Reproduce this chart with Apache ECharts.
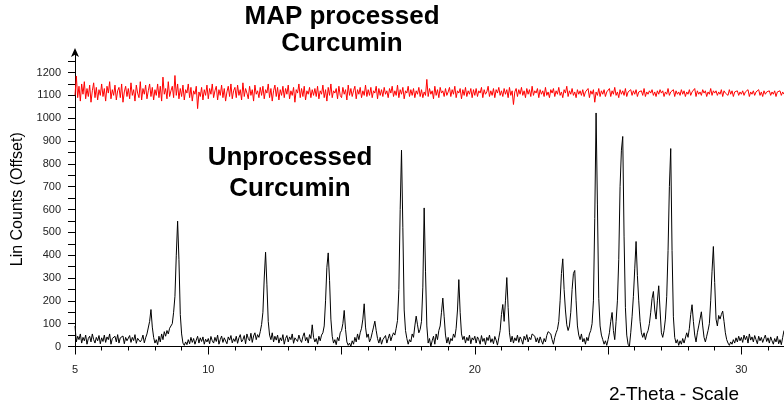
<!DOCTYPE html>
<html>

<head>
    <meta http-equiv="Content-Type" content="text/html; charset=utf-8">
    <title>Curcumin XRD</title>
    <script src="https://cdn.jsdelivr.net/npm/echarts@6/dist/echarts.min.js"></script>
    <style>
        html, body { margin: 0; padding: 0; background: #fff; }
        #chart { width: 784px; height: 406px; }
    </style>
</head>

<body>
    <div id="chart"></div>
    <script>
    // 2-theta grid: start 5.00, step 0.05, one row below = one degree
    var thetaStart = 5, thetaStep = 0.05;

    // unprocessed curcumin (black), lin counts
    var unprocessed = [
        90,20,45,30,55,15,40,25,50,10,35,45,20,55,30,15,40,25,48,12,
        38,22,50,18,42,30,55,10,35,28,45,20,52,15,38,30,46,12,40,25,
        33,48,18,40,26,52,14,36,44,20,30,50,16,38,55,62,110,162,85,40,
        15,30,8,45,20,55,30,65,45,70,55,80,75,100,150,220,400,549,380,140,
        55,15,5,20,8,30,12,40,18,35,10,28,45,15,38,22,42,10,32,20,
        35,12,44,25,15,40,22,50,10,30,46,18,38,24,12,42,28,48,16,34,
        22,45,14,38,52,20,30,48,12,55,35,25,58,18,46,60,30,52,40,65,
        96,150,300,413,270,110,50,30,60,20,45,28,50,15,38,25,52,10,35,48,
        20,42,30,55,14,38,46,22,50,30,18,44,60,25,40,15,52,35,95,40,
        20,35,10,45,25,50,60,90,200,347,410,290,120,45,15,30,8,40,25,60,
        70,100,158,75,20,5,15,0,25,10,40,20,55,30,60,80,120,187,85,40,
        55,20,35,60,85,111,70,35,15,40,10,30,22,48,15,35,55,25,45,60,
        50,80,114,250,600,860,520,160,70,35,10,30,20,55,40,90,133,95,60,75,
        110,260,607,330,90,15,35,0,25,45,10,55,30,70,90,150,212,130,50,15,
        40,10,35,25,55,40,80,160,293,150,55,30,45,15,40,25,50,12,38,28,
        45,15,42,30,10,48,22,36,8,40,26,50,18,34,12,44,28,6,38,70,
        140,184,110,200,302,170,60,20,45,15,38,25,50,18,42,30,10,45,28,52,
        20,40,30,55,62,45,20,38,15,42,25,10,35,20,48,65,70,55,30,10,
        40,60,75,110,200,320,384,250,160,95,70,90,150,250,320,333,200,90,50,30,
        55,20,35,10,40,25,55,70,100,200,560,1023,620,210,90,50,30,10,25,5,
        30,60,110,149,70,30,110,200,380,700,860,920,480,170,50,10,0,60,130,220,
        340,460,310,200,110,60,40,60,30,55,70,100,150,210,241,160,120,200,266,160,
        60,40,70,120,220,420,700,867,420,130,40,15,30,5,25,10,35,15,20,60,
        40,80,140,183,110,50,20,60,90,120,152,90,40,20,45,70,100,200,330,438,
        280,120,90,136,120,140,155,110,60,30,15,5,20,10,30,15,38,20,45,25,
        40,18,50,30,45,15,55,28,42,20,48,30,12,45,25,40,18,35,50,22,
        38,15,42,25,10,35,20,45,12,30,8,40,70
    ];

    // MAP processed curcumin (red), offset lin counts
    var mapProcessed = [
        1100,1185,1090,1140,1075,1150,1105,1160,1085,1130,1095,1145,1070,1120,1155,1090,1135,1080,1125,1100,
        1150,1095,1130,1075,1140,1110,1160,1085,1125,1100,1145,1080,1120,1135,1090,1150,1070,1115,1140,1095,
        1130,1085,1155,1100,1125,1075,1145,1110,1090,1160,1080,1130,1105,1145,1085,1120,1150,1095,1135,1080,
        1125,1100,1150,1090,1140,1075,1180,1105,1130,1085,1160,1095,1120,1140,1090,1187,1100,1150,1085,1130,
        1095,1145,1080,1125,1110,1150,1090,1135,1075,1120,1105,1140,1042,1115,1095,1135,1080,1125,1100,1145,
        1085,1130,1105,1150,1090,1120,1140,1080,1125,1100,1145,1090,1130,1075,1115,1140,1095,1150,1085,1120,
        1135,1090,1145,1100,1125,1080,1155,1095,1130,1110,1085,1140,1100,1125,1075,1145,1105,1120,1090,1135,
        1100,1140,1085,1125,1110,1150,1090,1130,1075,1120,1145,1095,1135,1080,1125,1100,1140,1090,1130,1105,
        1145,1085,1120,1100,1135,1070,1125,1110,1150,1090,1130,1095,1140,1080,1120,1105,1135,1090,1125,1100,
        1130,1095,1140,1085,1120,1105,1145,1090,1125,1075,1135,1100,1150,1090,1120,1110,1130,1085,1140,1100,
        1090,1135,1105,1125,1080,1145,1100,1130,1095,1120,1140,1085,1125,1105,1135,1090,1120,1100,1145,1095,
        1125,1100,1135,1090,1120,1110,1140,1085,1130,1100,1125,1095,1135,1105,1120,1090,1130,1110,1140,1095,
        1120,1100,1145,1090,1125,1105,1135,1085,1120,1110,1140,1095,1125,1100,1130,1090,1120,1105,1135,1095,
        1125,1090,1115,1100,1170,1095,1130,1105,1120,1085,1140,1100,1125,1090,1135,1110,1120,1095,1130,1100,
        1115,1135,1095,1125,1105,1140,1090,1120,1110,1130,1085,1125,1100,1135,1095,1120,1105,1130,1090,1125,
        1100,1130,1095,1120,1110,1135,1090,1125,1105,1115,1140,1095,1120,1100,1130,1090,1125,1110,1135,1100,
        1120,1095,1130,1105,1125,1090,1135,1100,1120,1060,1115,1130,1095,1125,1105,1135,1100,1120,1090,1130,
        1105,1125,1095,1140,1100,1120,1110,1130,1090,1125,1105,1120,1095,1135,1100,1115,1090,1125,1110,1130,
        1095,1120,1105,1135,1100,1115,1090,1125,1110,1140,1095,1120,1105,1130,1100,1115,1090,1125,1105,1120,
        1100,1125,1095,1115,1110,1130,1090,1120,1105,1125,1070,1115,1100,1130,1095,1120,1105,1125,1095,1115,
        1110,1130,1095,1120,1105,1135,1100,1115,1090,1125,1105,1120,1100,1130,1095,1115,1110,1125,1100,1120,
        1105,1125,1095,1115,1110,1120,1100,1130,1095,1115,1105,1120,1110,1125,1100,1115,1095,1120,1105,1125,
        1110,1120,1095,1115,1105,1130,1100,1115,1110,1125,1095,1120,1105,1115,1100,1125,1105,1120,1095,1115,
        1105,1125,1100,1115,1110,1130,1095,1120,1105,1115,1100,1125,1110,1120,1095,1115,1105,1130,1100,1120,
        1110,1120,1100,1115,1105,1125,1095,1120,1110,1115,1100,1125,1105,1120,1095,1115,1110,1120,1100,1115,
        1105,1120,1100,1115,1110,1125,1095,1115,1105,1120,1100,1115,1110,1125,1100,1115,1095,1120,1105,1115,
        1110,1120,1100,1115,1105,1120,1095,1115,1110,1120,1100,1115,1105
    ];

    var xMinorTicks = [5,6,7,8,9,10,11,12,13,14,15,16,17,18,19,20,21,22,23,24,25,26,27,28,29,30,31];
    var xMajorTicks = [5, 10, 15, 20, 25, 30];
    var xLabels = [5, 10, 20, 30];
    var yTicks = [0,50,100,150,200,250,300,350,400,450,500,550,600,650,700,750,800,850,900,950,1000,1050,1100,1150,1200,1250];
    var yLabels = [0,100,200,300,400,500,600,700,800,900,1000,1100,1200];

    function toPoints(arr) {
        var out = [];
        for (var i = 0; i < arr.length; i++) {
            out.push([+(thetaStart + i * thetaStep).toFixed(2), arr[i]]);
        }
        return out;
    }

    var chart = echarts.init(document.getElementById("chart"));
    var font = "Liberation Sans, Arial, Helvetica, sans-serif";
    var plain = function(v) { return String(v); };

    chart.setOption({
        animation: false,
        grid: { left: 75, right: 0, top: 52, bottom: 59.5 },
        xAxis: [{
            type: "value", min: 5, max: 31.6,
            splitLine: { show: false },
            axisLine: { lineStyle: { color: "#000", width: 1 } },
            axisTick: { customValues: xMinorTicks, length: 4, lineStyle: { color: "#000" } },
            axisLabel: { show: false }
        }, {
            type: "value", min: 5, max: 31.6, position: "bottom",
            splitLine: { show: false },
            axisLine: { show: false },
            axisTick: { customValues: xMajorTicks, length: 8, lineStyle: { color: "#000" } },
            axisLabel: { customValues: xLabels, formatter: plain, margin: 18, fontSize: 11, color: "#222", fontFamily: font }
        }],
        yAxis: {
            type: "value", min: 0, max: 1290,
            name: "Lin Counts (Offset)", nameLocation: "middle", nameGap: 43,
            nameTextStyle: { fontSize: 16, color: "#000", fontFamily: font },
            splitLine: { show: false },
            axisLine: { lineStyle: { color: "#000", width: 1 }, symbol: ["none", "arrow"], symbolSize: [6, 9], symbolOffset: [0, 4] },
            axisTick: { customValues: yTicks, length: 7, lineStyle: { color: "#000" } },
            axisLabel: { customValues: yLabels, formatter: plain, margin: 14, fontSize: 11, color: "#222", fontFamily: font }
        },
        graphic: [
            { type: "text", x: 342, y: 17, style: { text: "MAP processed", font: "bold 26px " + font, fill: "#000", textAlign: "center", textVerticalAlign: "middle" } },
            { type: "text", x: 342, y: 44, style: { text: "Curcumin", font: "bold 26px " + font, fill: "#000", textAlign: "center", textVerticalAlign: "middle" } },
            { type: "text", x: 290, y: 158, style: { text: "Unprocessed", font: "bold 26px " + font, fill: "#000", textAlign: "center", textVerticalAlign: "middle" } },
            { type: "text", x: 290, y: 189, style: { text: "Curcumin", font: "bold 26px " + font, fill: "#000", textAlign: "center", textVerticalAlign: "middle" } },
            { type: "text", x: 674, y: 395, style: { text: "2-Theta - Scale", font: "19px " + font, fill: "#000", textAlign: "center", textVerticalAlign: "middle" } }
        ],
        series: [{
            name: "Unprocessed", type: "line", xAxisIndex: 0,
            data: toPoints(unprocessed), showSymbol: false, sampling: null,
            lineStyle: { color: "#000", width: 1 }, z: 3
        }, {
            name: "MAP processed", type: "line", xAxisIndex: 0,
            data: toPoints(mapProcessed), showSymbol: false,
            lineStyle: { color: "#ff0000", width: 1 }, z: 2
        }]
    });
    </script>
</body>

</html>
